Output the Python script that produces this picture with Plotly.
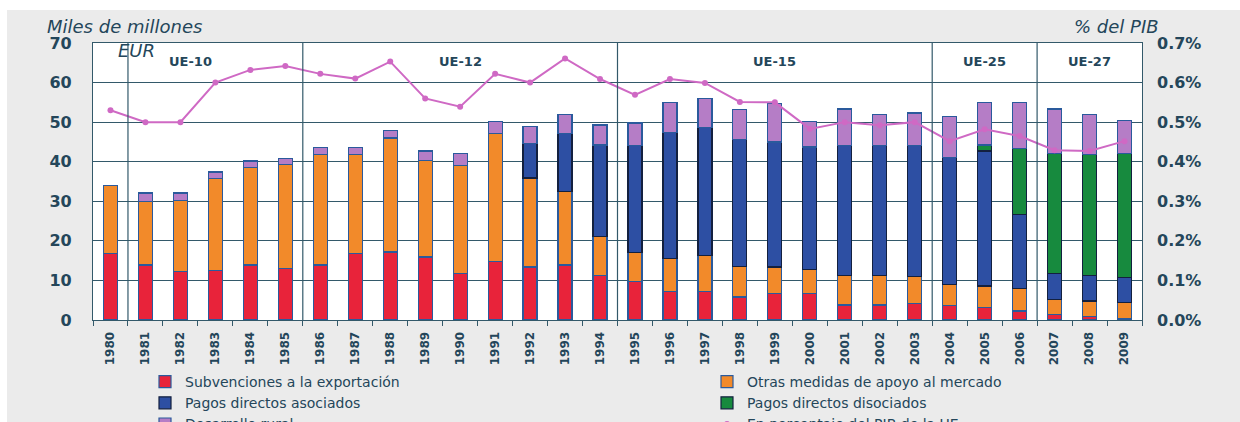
import plotly.graph_objects as go

years = ["1980", "1981", "1982", "1983", "1984", "1985", "1986", "1987", "1988", "1989",
         "1990", "1991", "1992", "1993", "1994", "1995", "1996", "1997", "1998", "1999",
         "2000", "2001", "2002", "2003", "2004", "2005", "2006", "2007", "2008", "2009"]

subvenciones = [16.9, 13.9, 12.3, 12.5, 13.9, 13.1, 13.9, 16.9, 17.2, 15.9,
                11.8, 14.8, 13.4, 13.9, 11.2, 9.7, 7.2, 7.2, 5.8, 6.6,
                6.6, 3.8, 3.8, 4.1, 3.6, 3.2, 2.3, 1.4, 0.8, 0.4]
otras_medidas = [17.1, 16.1, 17.9, 23.2, 24.7, 26.1, 27.9, 24.9, 28.8, 24.5,
                 27.3, 32.3, 22.5, 18.6, 9.9, 7.4, 8.4, 9.0, 7.7, 6.8,
                 6.1, 7.4, 7.4, 6.9, 5.3, 5.4, 5.6, 3.7, 4.0, 4.0]
pagos_asociados = [None, None, None, None, None, None, None, None, None, None,
                   None, None, 8.7, 14.6, 23.1, 26.9, 31.7, 32.4, 32.1, 31.6,
                   31.0, 32.8, 32.8, 33.0, 32.1, 34.1, 18.7, 6.6, 6.4, 6.3]
pagos_disociados = [None, None, None, None, None, None, None, None, None, None,
                    None, None, None, None, None, None, None, None, None, None,
                    None, None, None, None, None, 1.5, 16.7, 30.4, 30.6, 31.4]
desarrollo_rural = [None, 2.1, 1.9, 1.7, 1.6, 1.7, 1.8, 1.8, 1.9, 2.3,
                    3.0, 3.1, 4.3, 4.9, 5.1, 5.8, 7.6, 7.4, 7.6, 9.8,
                    6.5, 9.3, 8.0, 8.3, 10.4, 10.7, 11.6, 11.2, 10.2, 8.4]
pct_pib = [0.530, 0.500, 0.500, 0.600, 0.632, 0.642, 0.622, 0.610, 0.653, 0.560,
           0.539, 0.622, 0.600, 0.661, 0.609, 0.569, 0.609, 0.599, 0.551, 0.550,
           0.483, 0.500, 0.492, 0.500, 0.452, 0.482, 0.465, 0.429, 0.427, 0.452]

series_names = ["Subvenciones a la exportación", "Otras medidas de apoyo al mercado",
                "Pagos directos asociados", "Pagos directos disociados", "Desarrollo rural"]
line_name = "En porcentaje del PIB de la UE"

left_ticks = [0, 10, 20, 30, 40, 50, 60, 70]
right_ticks = [0.0, 0.1, 0.2, 0.3, 0.4, 0.5, 0.6, 0.7]
right_ticklabels = ["0.0%", "0.1%", "0.2%", "0.3%", "0.4%", "0.5%", "0.6%", "0.7%"]

periods = ["UE-10", "UE-12", "UE-15", "UE-25", "UE-27"]
period_label_pos = [2.3, 10, 19, 25, 28]
period_bounds = [0.5, 5.5, 14.5, 23.5, 26.5]

colors = ["#e8233a", "#f28a2a", "#2d4fa3", "#178a3e", "#b57dc6"]
edge_colors = ["#2a5a9c", "#2a5a9c", "#13203f", "#13203f", "#2a5a9c"]
legend_of = ["legend", "legend2", "legend", "legend2", "legend"]
line_color = "#cf69c4"
grid_color = "#33596a"
text_color = "#24465a"

W, H = 1240, 422
ML, MR, MT, MB = 93, 98, 43, 102
PW, PH = W - ML - MR, H - MT - MB


def px_x(x):
    return (x - ML) / PW


def px_y(y):
    return (H - MB - y) / PH


fig = go.Figure()
for name, vals, c, ec, lg in zip(series_names,
                                 [subvenciones, otras_medidas, pagos_asociados, pagos_disociados, desarrollo_rural],
                                 colors, edge_colors, legend_of):
    fig.add_trace(go.Bar(x=years, y=vals, name=name, legend=lg,
                         marker=dict(color=c, line=dict(color=ec, width=1.2)), width=0.4))

fig.add_trace(go.Scatter(x=years, y=pct_pib, name=line_name, yaxis="y2", mode="lines+markers",
                         legend="legend2",
                         line=dict(color=line_color, width=2), marker=dict(color=line_color, size=6)))

font_main = "DejaVu Sans, Verdana, sans-serif"

shapes = []
for b in period_bounds:
    shapes.append(dict(type="line", xref="x", yref="y", x0=b, x1=b, y0=0, y1=70,
                       line=dict(color=grid_color, width=1.2), layer="above"))
# white strips at the picture's top and left edges
shapes.append(dict(type="rect", xref="paper", yref="paper", x0=px_x(-5), x1=px_x(W + 5),
                   y0=px_y(10), y1=px_y(-5), fillcolor="white", line=dict(width=0), layer="below"))
shapes.append(dict(type="rect", xref="paper", yref="paper", x0=px_x(-5), x1=px_x(7),
                   y0=px_y(H + 5), y1=px_y(-5), fillcolor="white", line=dict(width=0), layer="below"))

annotations = []
for lab, pos in zip(periods, period_label_pos):
    annotations.append(dict(x=pos, y=65.2, xref="x", yref="y", text=lab, showarrow=False,
                            font=dict(family=font_main, size=13, color=text_color, weight="bold")))
annotations.append(dict(x=px_x(45), y=px_y(26), xref="paper", yref="paper", text="<i>Miles de millones</i>",
                        showarrow=False, xanchor="left", yanchor="middle",
                        font=dict(family=font_main, size=18, color=text_color)))
annotations.append(dict(x=px_x(116), y=px_y(50), xref="paper", yref="paper",
                        text="<i>EUR</i>", showarrow=False, xanchor="left", yanchor="middle",
                        font=dict(family=font_main, size=18, color=text_color)))
annotations.append(dict(x=px_x(1161), y=px_y(26), xref="paper", yref="paper",
                        text="<i>% del PIB</i>", showarrow=False, xanchor="right", yanchor="middle",
                        font=dict(family=font_main, size=18, color=text_color)))

legend_font = dict(family=font_main, size=14, color=text_color)
common_legend = dict(orientation="v", yanchor="top", xanchor="left", bgcolor="rgba(0,0,0,0)",
                     font=legend_font, traceorder="normal", itemclick=False, itemdoubleclick=False,
                     tracegroupgap=0)

fig.update_layout(
    width=W, height=H,
    margin=dict(l=ML, r=MR, t=MT, b=MB, autoexpand=False),
    barmode="stack",
    paper_bgcolor="#ebebeb",
    plot_bgcolor="white",
    showlegend=True,
    legend=dict(common_legend, x=px_x(145), y=px_y(366)),
    legend2=dict(common_legend, x=px_x(707), y=px_y(366)),
    xaxis=dict(type="category", range=[-0.5, 29.5], tickangle=-90, tickson="boundaries",
               ticks="outside", ticklen=5, tickcolor=grid_color, showgrid=False,
               showline=True, linecolor=grid_color, linewidth=1.2, mirror=True,
               ticklabelstandoff=6,
               tickfont=dict(family=font_main, size=12, color=text_color, weight="bold")),
    yaxis=dict(range=[0, 70], tickvals=left_ticks, showgrid=True, gridcolor=grid_color, gridwidth=1.2,
               zeroline=False, showline=True, linecolor=grid_color, linewidth=1.2, mirror=True,
               ticks="", ticklabelstandoff=17,
               tickfont=dict(family=font_main, size=16, color=text_color, weight="bold")),
    yaxis2=dict(range=[0, 0.7], overlaying="y", side="right", tickvals=right_ticks,
                ticktext=right_ticklabels, showgrid=False, zeroline=False, ticks="",
                ticklabelstandoff=14,
                tickfont=dict(family=font_main, size=16, color=text_color, weight="bold")),
    shapes=shapes,
    annotations=annotations,
)

fig.write_html("out.html", config={"displayModeBar": False},
               post_script="document.body.style.margin='0';document.body.style.overflow='hidden';")
